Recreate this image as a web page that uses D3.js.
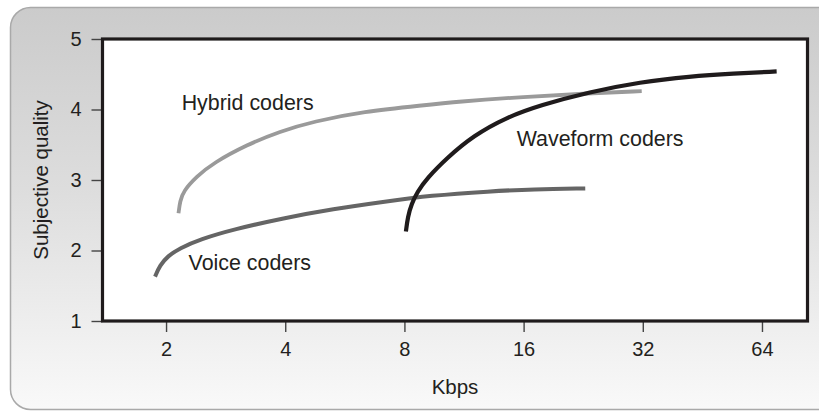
<!DOCTYPE html>
<html>
<head>
<meta charset="utf-8">
<script src="https://cdn.jsdelivr.net/npm/d3@7"></script>
<style>
  html, body { margin: 0; padding: 0; background: #ffffff; }
  svg { display: block; font-family: "Liberation Sans", Arial, Helvetica, sans-serif; }
</style>
</head>
<body>
<svg id="chart" width="819" height="412"></svg>
<script>
// ---- data ----
const xTicks = [2, 4, 8, 16, 32, 64];
const yTicks = [1, 2, 3, 4, 5];
const xDomain = [1.382, 83.4];
const yDomain = [1, 5];

const hybridKbps    = [2.15, 2.17, 2.21, 2.39, 2.63, 3.20, 3.88, 4.71, 6.30, 8.93, 10.84, 15.98, 23.5, 31.8];
const hybridQuality = [2.53, 2.70, 2.84, 3.05, 3.24, 3.50, 3.69, 3.83, 3.97, 4.06, 4.11, 4.18, 4.23, 4.26];

const voiceKbps    = [1.876, 1.93, 2.02, 2.16, 2.44, 2.96, 3.96, 5.29, 7.08, 9.29, 13.16, 16.93, 22.9];
const voiceQuality = [1.63, 1.79, 1.92, 2.03, 2.16, 2.30, 2.46, 2.59, 2.69, 2.78, 2.84, 2.87, 2.88];

const waveKbps    = [8.07, 8.16, 8.34, 8.62, 9.11, 10.23, 11.95, 14.50, 17.6, 23.5, 31.5, 42.1, 54.2, 69.7];
const waveQuality = [2.27, 2.48, 2.66, 2.83, 3.02, 3.31, 3.63, 3.89, 4.06, 4.25, 4.39, 4.47, 4.51, 4.54];

const seriesNames = ["Hybrid coders", "Voice coders", "Waveform coders"];
// label anchor points (in data units: kbps, quality)
const labelKbps    = [2.19, 2.28, 15.37];
const labelQuality = [4.00, 1.72, 3.48];

const xTitle = "Kbps";
const yTitle = "Subjective quality";

// ---- drawing ----
const svg = d3.select("#chart");
const plot = { left: 102.5, right: 807.5, top: 39, bottom: 321 };

const defs = svg.append("defs");
const grad = defs.append("linearGradient")
  .attr("id", "bg").attr("x1", 0).attr("y1", 0).attr("x2", 0).attr("y2", 1);
grad.append("stop").attr("offset", "0%").attr("stop-color", "#cbcbcb");
grad.append("stop").attr("offset", "45%").attr("stop-color", "#dddddd");
grad.append("stop").attr("offset", "100%").attr("stop-color", "#f9f9f9");

svg.append("rect")
  .attr("x", 10.5).attr("y", 7.5)
  .attr("width", 840).attr("height", 402)
  .attr("rx", 20).attr("ry", 20)
  .attr("fill", "url(#bg)")
  .attr("stroke", "#a9a9a9").attr("stroke-width", 1.5);

const x = d3.scaleLog().base(2).domain(xDomain).range([plot.left, plot.right]);
const y = d3.scaleLinear().domain(yDomain).range([plot.bottom, plot.top]);

// plot area
svg.append("rect")
  .attr("x", plot.left).attr("y", plot.top)
  .attr("width", plot.right - plot.left).attr("height", plot.bottom - plot.top)
  .attr("fill", "#ffffff");

// axes
const xAxis = d3.axisBottom(x).tickValues(xTicks).tickFormat(d3.format("d")).tickSize(11).tickPadding(10);
const yAxis = d3.axisLeft(y).tickValues(yTicks).tickFormat(d3.format("d")).tickSize(11).tickPadding(10);

const gx = svg.append("g").attr("transform", `translate(0,${plot.bottom})`).call(xAxis);
const gy = svg.append("g").attr("transform", `translate(${plot.left},0)`).call(yAxis);
[gx, gy].forEach(g => {
  g.select(".domain").remove();
  g.selectAll(".tick line").attr("stroke", "#444").attr("stroke-width", 1.4);
  g.selectAll(".tick text").attr("fill", "#231f20").attr("font-size", 20)
    .attr("font-family", "'Liberation Sans', Arial, sans-serif");
});
gx.selectAll(".tick text").attr("dy", "0.71em");

// series lines
const series = [
  { k: hybridKbps, q: hybridQuality, color: "#9a9a9a", w: 3.8 },
  { k: voiceKbps,  q: voiceQuality,  color: "#656565", w: 4 },
  { k: waveKbps,   q: waveQuality,   color: "#1f1b1c", w: 4.2 }
];
const line = d3.line().x(d => x(d[0])).y(d => y(d[1])).curve(d3.curveBasis);
series.forEach(s => {
  svg.append("path")
    .datum(s.k.map((v, i) => [v, s.q[i]]))
    .attr("d", line)
    .attr("fill", "none")
    .attr("stroke", s.color)
    .attr("stroke-width", s.w)
    .attr("stroke-linecap", "butt");
});

// frame of plot
svg.append("rect")
  .attr("x", plot.left).attr("y", plot.top)
  .attr("width", plot.right - plot.left).attr("height", plot.bottom - plot.top)
  .attr("fill", "none").attr("stroke", "#1f1b1c").attr("stroke-width", 3.2);

// series labels
seriesNames.forEach((name, i) => {
  svg.append("text")
    .attr("x", x(labelKbps[i])).attr("y", y(labelQuality[i]))
    .attr("font-size", 21.4).attr("fill", "#231f20")
    .text(name);
});

// axis titles
svg.append("text")
  .attr("x", (plot.left + plot.right) / 2).attr("y", 394)
  .attr("text-anchor", "middle").attr("font-size", 20.5).attr("fill", "#231f20")
  .text(xTitle);
svg.append("text")
  .attr("transform", `translate(48,${(plot.top + plot.bottom) / 2}) rotate(-90)`)
  .attr("text-anchor", "middle").attr("font-size", 20.5).attr("fill", "#231f20")
  .text(yTitle);
</script>
</body>
</html>
